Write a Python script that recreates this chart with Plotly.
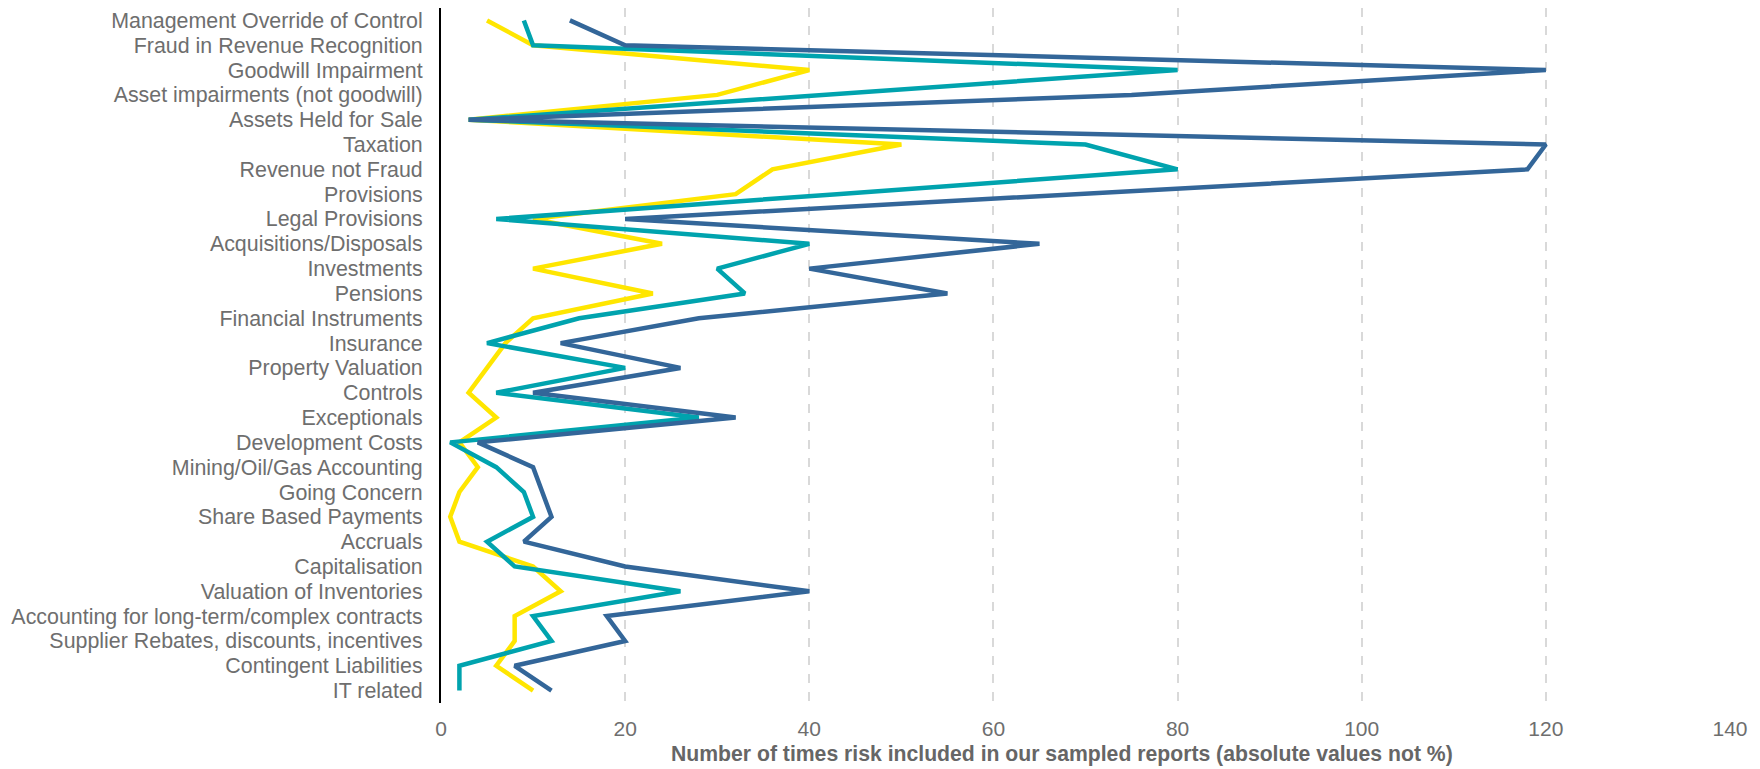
import plotly.graph_objects as go

categories = [
    "Management Override of Control",
    "Fraud in Revenue Recognition",
    "Goodwill Impairment",
    "Asset impairments (not goodwill)",
    "Assets Held for Sale",
    "Taxation",
    "Revenue not Fraud",
    "Provisions",
    "Legal Provisions",
    "Acquisitions/Disposals",
    "Investments",
    "Pensions",
    "Financial Instruments",
    "Insurance",
    "Property Valuation",
    "Controls",
    "Exceptionals",
    "Development Costs",
    "Mining/Oil/Gas Accounting",
    "Going Concern",
    "Share Based Payments",
    "Accruals",
    "Capitalisation",
    "Valuation of Inventories",
    "Accounting for long-term/complex contracts",
    "Supplier Rebates, discounts, incentives",
    "Contingent Liabilities",
    "IT related",
]

series_yellow = [5, 10, 40, 30, 3, 50, 36, 32, 10, 24, 10, 23, 10, 7, 5, 3, 6, 2, 4, 2, 1, 2, 10, 13, 8, 8, 6, 10]
series_teal = [9, 10, 80, 42, 3, 70, 80, 43, 6, 40, 30, 33, 15, 5, 20, 6, 28, 1, 6, 9, 10, 5, 8, 26, 10, 12, 2, 2]
series_blue = [14, 20, 120, 75, 3, 120, 118, 69, 20, 65, 40, 55, 28, 13, 26, 10, 32, 4, 10, 11, 12, 9, 20, 40, 18, 20, 8, 12]

x_ticks = [0, 20, 40, 60, 80, 100, 120, 140]
x_title = "Number of times risk included in our sampled reports (absolute values not %)"

colors = {"yellow": "#FFE600", "teal": "#00A3AE", "blue": "#336699"}

fig = go.Figure()
for name, vals in [("yellow", series_yellow), ("teal", series_teal), ("blue", series_blue)]:
    fig.add_trace(go.Scatter(
        x=vals, y=categories, mode="lines", name=name,
        line=dict(color=colors[name], width=4.5),
        hoverinfo="x+y",
    ))

fig.update_layout(
    width=1760, height=769,
    margin=dict(l=433, r=38, t=0, b=74),
    paper_bgcolor="white", plot_bgcolor="white",
    showlegend=False,
    font=dict(family="Liberation Sans, Arial, sans-serif", color="#6e6e6e"),
)
fig.add_annotation(
    text="<b>" + x_title + "</b>", xref="paper", yref="paper",
    x=0.482, y=0, xanchor="center", yanchor="middle", yshift=-51,
    showarrow=False, font=dict(size=21.2, color="#666666"),
)
fig.update_xaxes(
    range=[0, 140], tickmode="array", tickvals=x_ticks, ticktext=[str(v) for v in x_ticks],
    showgrid=True, gridcolor="#d9d9d9", griddash="dash", gridwidth=1.5,
    zeroline=False, showline=False, automargin=False,
    ticks="outside", ticklen=7, tickcolor="rgba(0,0,0,0)",
    tickfont=dict(size=21, color="#6e6e6e"),
)
fig.update_yaxes(
    categoryorder="array", categoryarray=categories,
    tickmode="array", tickvals=categories, ticktext=categories,
    range=[27.5, -0.5],
    showgrid=False, zeroline=False, automargin=False,
    showline=True, linecolor="black", linewidth=2,
    ticks="outside", ticklen=12, tickcolor="rgba(0,0,0,0)",
    tickfont=dict(size=21.4, color="#6e6e6e"),
)

fig.write_html("out.html")
